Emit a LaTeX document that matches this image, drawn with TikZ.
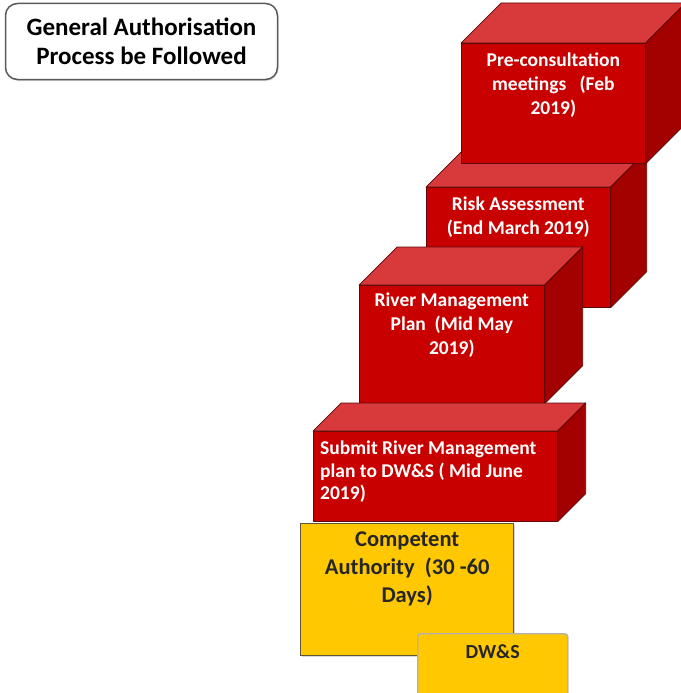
\documentclass[tikz,border=0pt]{standalone}
\usepackage{fontspec}
\setmainfont{Carlito}
\usetikzlibrary{positioning,shadows}

\definecolor{frontred}{RGB}{200,0,0}
\definecolor{topred}{RGB}{216,58,60}
\definecolor{sidered}{RGB}{163,0,0}
\definecolor{edgered}{RGB}{90,10,10}
\definecolor{gold}{RGB}{255,200,0}
\definecolor{goldedge}{RGB}{95,85,55}

\tikzset{
  face/.style={draw=edgered, line width=0.7pt, line join=round},
  stepbox/.style={face, fill=frontred, anchor=north west, inner sep=0pt},
  steptext/.style={text=white, font=\bfseries\fontsize{19.5}{24}\selectfont,
    inner sep=0pt, align=center},
  goldbox/.style={draw=goldedge, line width=1.4pt, fill=gold, anchor=north west,
    inner sep=0pt, drop shadow={opacity=0.3, shadow xshift=1pt, shadow yshift=-1.5pt}},
  goldtext/.style={text=black!85, font=\bfseries\fontsize{22.5}{28}\selectfont,
    inner sep=0pt, align=center}
}

% top and side face of a step: #1 front node, #2 depth
\newcommand{\stepfaces}[2]{%
  \draw[face, fill=topred] (#1.north west) -- ++(#2,-#2)
    -- ([shift={(#2,-#2)}]#1.north east) -- (#1.north east) -- cycle;
  \draw[face, fill=sidered] (#1.north east) -- ++(#2,-#2)
    -- ([shift={(#2,-#2)}]#1.south east) -- (#1.south east) -- cycle;
}

\begin{document}
\begin{tikzpicture}[x=1pt,y=-1pt]
    \useasboundingbox (0,0) rectangle (680,693);
    \fill[white] (0,0) rectangle (680,693);

    % title
    \node[draw=black!65, line width=1.5pt, rounded corners=12pt, fill=white,
        minimum width=272, minimum height=76, align=center,
        font=\bfseries\fontsize{25}{29}\selectfont,
        drop shadow={opacity=0.25, shadow xshift=1pt, shadow yshift=-1.5pt}]
        (title) at (141.5,41.5) {General Authorisation\\Process be Followed};

    % steps, from back to front
    \node[stepbox, minimum width=184, minimum height=120] (risk) at (426,187) {};
    \stepfaces{risk}{36}
    \node[steptext, below=9.5pt of risk.north] (risktext) {Risk Assessment\\(End March 2019)};

    \node[stepbox, minimum width=184, minimum height=120] (meet) at (461,43) {};
    \stepfaces{meet}{40}
    \node[steptext, below=10pt of meet.north] (meettext) {Pre-consultation\\meetings\ \ \ (Feb\\2019)};

    \node[stepbox, minimum width=185, minimum height=118] (rmp) at (359,285) {};
    \stepfaces{rmp}{38}
    \node[steptext, below=8pt of rmp.north] (rmptext) {River Management\\Plan\ \ (Mid May\\2019)};

    \node[stepbox, minimum width=244, minimum height=90] (submit) at (313,431) {};
    \stepfaces{submit}{28}
    \node[steptext, align=left, font=\bfseries\fontsize{19.5}{22.5}\selectfont,
        below right=10pt and 7pt of submit.north west] (submittext)
        {Submit River Management\\plan to DW\&S ( Mid June\\2019)};

    % authorities
    \node[goldbox, minimum width=213, minimum height=132] (ca) at (300,523) {};
    \node[goldtext, below=9pt of ca.north] (catext) {Competent\\Authority\ \ (30 -60\\Days)};

    \node[goldbox, draw=black!30, rounded corners=3pt, minimum width=150,
        minimum height=72] (dws) at (417,633) {};
    \node[goldtext, font=\bfseries\fontsize{20}{24}\selectfont,
        below=11pt of dws.north] (dwstext) {DW\&S};
\end{tikzpicture}
\end{document}
